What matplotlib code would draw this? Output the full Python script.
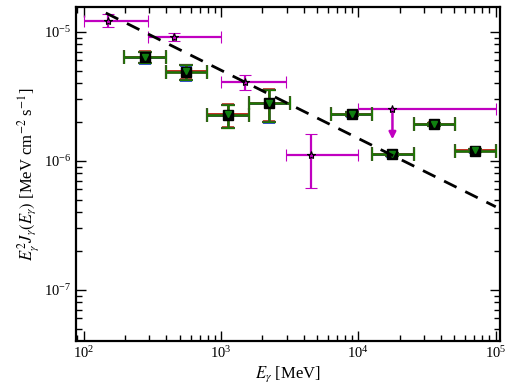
import matplotlib
matplotlib.use("Agg")
import matplotlib.pyplot as plt
import numpy as np

plt.rcParams['font.family'] = 'serif'
plt.rcParams['font.serif'] = ['Liberation Serif', 'DejaVu Serif']
plt.rcParams['mathtext.fontset'] = 'stix'

# Magenta (star) points: energy bins and flux
mag_E = [150, 457, 1496, 4540]
mag_Elo = [100, 296, 1000, 2958]
mag_Ehi = [296, 995, 2972, 9860]
mag_F = [1.216e-5, 9.1e-6, 4.09e-6, 1.114e-6]
mag_Flo = [1.093e-5, 8.43e-6, 3.53e-6, 6.14e-7]
mag_Fhi = [1.364e-5, 9.8e-6, 4.64e-6, 1.61e-6]

# Magenta upper limit
ul_E = [1.77e4]
ul_Elo = [1.0e4]
ul_Ehi = [1.0e5]
ul_F = [2.53e-6]

# Green (square) points
grn_E = [280, 556, 1130, 2234, 8930, 1.77e4, 3.54e4, 7.11e4]
grn_Elo = [198, 398, 787, 1589, 6280, 1.254e4, 2.52e4, 5.01e4]
grn_Ehi = [398, 787, 1589, 3177, 1.254e4, 2.52e4, 5.01e4, 1.0e5]
grn_F = [6.34e-6, 4.9e-6, 2.27e-6, 2.80e-6, 2.30e-6, 1.122e-6, 1.92e-6, 1.20e-6]
grn_Flo = [5.69e-6, 4.23e-6, 1.81e-6, 2.0e-6, 2.22e-6, 1.09e-6, 1.87e-6, 1.17e-6]
grn_Fhi = [7.0e-6, 5.52e-6, 2.73e-6, 3.57e-6, 2.38e-6, 1.15e-6, 1.97e-6, 1.23e-6]

# Dashed power-law line endpoints
line_E = [145, 1.0e5]
line_F = [1.40e-5, 4.4e-7]

fig = plt.figure(figsize=(5.10, 3.92), dpi=100)
ax = fig.add_axes([0.149, 0.131, 0.831, 0.850])

def xerr(E, lo, hi):
    E = np.array(E); return [E - np.array(lo), np.array(hi) - E]

def yerr(F, lo, hi):
    F = np.array(F); return [F - np.array(lo), np.array(hi) - F]

ax.plot(line_E, line_F, color='black', lw=2, ls=(0, (5, 3.5)), zorder=11)

magenta = '#c000c0'
ax.errorbar(mag_E, mag_F, xerr=xerr(mag_E, mag_Elo, mag_Ehi),
            yerr=yerr(mag_F, mag_Flo, mag_Fhi), fmt='*', color=magenta,
            mfc=magenta, mec='black', mew=0.8, ms=6, elinewidth=1.6,
            capsize=4.5, capthick=1.4, zorder=3)
ax.errorbar(ul_E, ul_F, xerr=xerr(ul_E, ul_Elo, ul_Ehi), fmt='*',
            color=magenta, mfc=magenta, mec='black', mew=0.8, ms=6,
            elinewidth=1.6, capsize=4.5, capthick=1.4, zorder=3)
for e, f in zip(ul_E, ul_F):
    ax.annotate('', xy=(e, f * 0.58), xytext=(e, f),
                arrowprops=dict(arrowstyle='-|>', color=magenta, lw=1.8,
                                mutation_scale=10, shrinkA=0, shrinkB=0),
                zorder=3)

gE = np.array(grn_E); gF = np.array(grn_F)
ax.errorbar(gE, gF * 0.988, xerr=xerr(grn_E, grn_Elo, grn_Ehi),
            yerr=yerr(gF * 0.988, np.array(grn_Flo) * 0.988, np.array(grn_Fhi) * 0.988),
            fmt='none', ecolor='#1030e0', elinewidth=1.4, capsize=4.5, capthick=1.2, zorder=6)
ax.errorbar(gE, gF * 1.010, xerr=xerr(grn_E, grn_Elo, grn_Ehi),
            yerr=yerr(gF * 1.010, np.array(grn_Flo) * 1.010, np.array(grn_Fhi) * 1.010),
            fmt='none', ecolor='#c03020', elinewidth=1.4, capsize=4.5, capthick=1.2, zorder=6)
ax.errorbar(gE, gF, xerr=xerr(grn_E, grn_Elo, grn_Ehi),
            yerr=yerr(grn_F, grn_Flo, grn_Fhi),
            fmt='none', ecolor='#3a5a20', elinewidth=2.0, capsize=4.7, capthick=1.6, zorder=7)
ax.errorbar(gE, gF, xerr=xerr(grn_E, grn_Elo, grn_Ehi),
            yerr=yerr(grn_F, grn_Flo, grn_Fhi),
            fmt='none', ecolor='#1a7a00', elinewidth=1.0, capsize=4.5, capthick=0.8, zorder=8)
ax.plot(gE, gF, 's', color='black', ms=6.5, zorder=9, ls='none')
ax.plot(gE, gF * 1.01, 'v', color='#108010', ms=3.8, zorder=10, ls='none')

ax.set_xscale('log')
ax.set_yscale('log')
ax.set_xlim(88, 1.07e5)
ax.set_ylim(4.03e-8, 1.545e-5)

ax.tick_params(which='both', direction='in', top=True, right=True, labelsize=10.5)
ax.tick_params(which='major', length=7, width=1)
ax.tick_params(which='minor', length=4, width=1)
for s in ax.spines.values():
    s.set_linewidth(1.6)

ax.set_xlabel(r'$E_\gamma$ [MeV]', fontsize=12, labelpad=2)
ax.set_ylabel(r'$E_\gamma^2 J_\gamma(E_\gamma)$ [MeV cm$^{-2}$ s$^{-1}$]', fontsize=12, labelpad=2)

fig.savefig('out.png', dpi=100)
